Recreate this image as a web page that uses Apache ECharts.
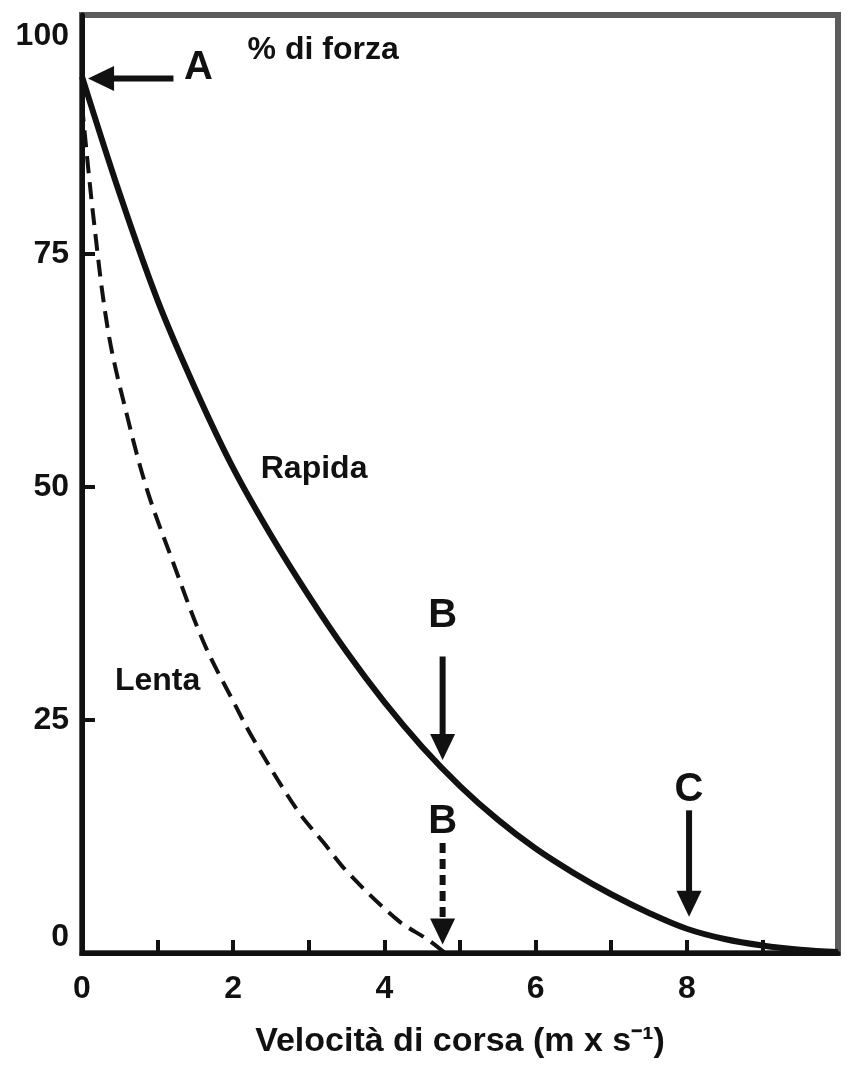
<!DOCTYPE html>
<html><head><meta charset="utf-8">
<script src="https://cdn.jsdelivr.net/npm/echarts@6/dist/echarts.min.js"></script>
<style>html,body{margin:0;padding:0;background:#fff}#c{width:846px;height:1067px}</style>
</head><body><div id="c"></div>
<script>
// ---- data ----
const rapidaSpeed = [0, 0.5, 1, 1.5, 2, 2.5, 3, 3.5, 4, 4.5, 5, 5.5, 6, 6.5, 7, 7.5, 8, 8.5, 9, 9.5, 10];
const rapidaForce = [94, 81.4, 70, 60.5, 52, 44.8, 38.3, 32.3, 26.9, 22.1, 17.9, 14.3, 11.2, 8.6, 6.3, 4.3, 2.6, 1.5, 0.8, 0.35, 0.1];
const lentaSpeed = [0, 0.15, 0.35, 0.6, 0.86, 1.2, 1.61, 2.0, 2.27, 2.85, 3.2, 3.52, 4.18, 4.58, 4.8];
const lentaForce = [91, 79, 66.5, 57.5, 49.7, 42, 33.3, 27, 22.9, 15.3, 11.8, 8.6, 3.5, 1.4, 0];
const xTickValues = [1, 2, 3, 4, 5, 6, 7, 8, 9];
const xLabelValues = [0, 2, 4, 6, 8];
const yTickValues = [25, 50, 75];
const yLabelValues = [0, 25, 50, 75, 100];
const xTitle = 'Velocità di corsa (m x s⁻¹)';
// arrows: [fromSpeed, fromForce, tipSpeed, tipForce]
const solidArrows = [[1.21, 93.8, 0.08, 93.8], [4.77, 31.8, 4.77, 20.7], [8.03, 15.3, 8.03, 3.9]];
const dashedArrows = [[4.77, 11.8, 4.77, 0.9]];
// text annotations: [text, speed, force]
const letterLabels = [['A', 1.54, 94.9], ['B', 4.77, 36.1], ['B', 4.77, 14.1], ['C', 8.03, 17.5]];
const wordLabels = [['% di forza', 3.19, 96.8], ['Rapida', 3.07, 51.9], ['Lenta', 1.0, 29.1]];

// ---- chart ----
const INK = '#111';
const FONT = "'Liberation Sans', Arial, Helvetica, sans-serif";
const NARROW = "'Liberation Sans Narrow', 'Liberation Sans', Arial, sans-serif";
const zip = (a, b) => a.map((v, i) => [v, b[i]]);

function arrowRenderer(dashed) {
  return function (params, api) {
    const p1 = api.coord([api.value(0), api.value(1)]);
    const p2 = api.coord([api.value(2), api.value(3)]);
    const dx = p2[0] - p1[0], dy = p2[1] - p1[1];
    const len = Math.hypot(dx, dy), ux = dx / len, uy = dy / len;
    const HL = 26, HW = 25;
    const bx = p2[0] - ux * HL, by = p2[1] - uy * HL;
    return {
      type: 'group',
      children: [
        { type: 'line', shape: { x1: p1[0], y1: p1[1], x2: bx + ux * 3, y2: by + uy * 3 },
          style: { stroke: INK, lineWidth: 6, lineDash: dashed ? [10, 6] : null, lineCap: 'butt' } },
        { type: 'polygon', shape: { points: [[p2[0], p2[1]], [bx - uy * HW / 2, by + ux * HW / 2], [bx + uy * HW / 2, by - ux * HW / 2]] },
          style: { fill: INK } }
      ]
    };
  };
}
function textRenderer(list, size, family) {
  return function (params, api) {
    const p = api.coord([api.value(0), api.value(1)]);
    return {
      type: 'text', x: p[0], y: p[1],
      style: { text: list[params.dataIndex][0], fontSize: size, fontWeight: 'bold', fontFamily: family,
        fill: INK, align: 'center', verticalAlign: 'middle' }
    };
  };
}
const labelStyle = { fontSize: 32, fontWeight: 'bold', fontFamily: FONT, color: INK };

const chart = echarts.init(document.getElementById('c'), null, { renderer: 'canvas' });
chart.setOption({
  backgroundColor: '#fff',
  animation: false,
  grid: { left: 82, right: 8, top: 15, bottom: 114, show: true, borderColor: '#5c5c5c', borderWidth: 6,
    backgroundColor: 'transparent', outerBoundsMode: 'none' },
  xAxis: {
    type: 'value', min: 0, max: 10, interval: 1,
    axisLine: { lineStyle: { color: INK, width: 5 } },
    axisTick: { inside: true, length: 13, lineStyle: { color: INK, width: 4 }, customValues: xTickValues },
    axisLabel: Object.assign({ customValues: xLabelValues, margin: 20 }, labelStyle),
    splitLine: { show: false },
    name: xTitle, nameLocation: 'middle', nameGap: 72,
    nameTextStyle: { fontSize: 34, fontWeight: 'bold', fontFamily: FONT, color: INK }
  },
  yAxis: {
    type: 'value', min: 0, max: 100.6, interval: 25,
    axisLine: { show: true, lineStyle: { color: INK, width: 5 } },
    axisTick: { show: true, inside: true, length: 13, lineStyle: { color: INK, width: 4 }, customValues: yTickValues },
    axisLabel: Object.assign({
      customValues: yLabelValues, margin: 13,
      formatter: v => v === 0 ? '{lo|0}' : (v === 100 ? '{hi|100}' : '{n|' + v + '}'),
      rich: {
        n: Object.assign({}, labelStyle),
        lo: Object.assign({ padding: [0, 0, 32, 0] }, labelStyle),
        hi: Object.assign({ padding: [32, 0, 0, 0] }, labelStyle)
      }
    }, labelStyle),
    splitLine: { show: false }
  },
  series: [
    { name: 'Rapida', type: 'line', data: zip(rapidaSpeed, rapidaForce), smooth: 0.35,
      showSymbol: false, lineStyle: { color: INK, width: 6 }, z: 5 },
    { name: 'Lenta', type: 'line', data: zip(lentaSpeed, lentaForce), smooth: 0.35,
      showSymbol: false, lineStyle: { color: INK, width: 4, type: [17, 9] }, z: 5 },
    { type: 'custom', data: solidArrows, renderItem: arrowRenderer(false), clip: false, z: 6,
      encode: { x: [0, 2], y: [1, 3] } },
    { type: 'custom', data: dashedArrows, renderItem: arrowRenderer(true), clip: false, z: 6,
      encode: { x: [0, 2], y: [1, 3] } },
    { type: 'custom', data: letterLabels.map(d => [d[1], d[2]]), renderItem: textRenderer(letterLabels, 40, NARROW),
      clip: false, z: 7 },
    { type: 'custom', data: wordLabels.map(d => [d[1], d[2]]), renderItem: textRenderer(wordLabels, 32, FONT),
      clip: false, z: 7 }
  ]
});
</script></body></html>
